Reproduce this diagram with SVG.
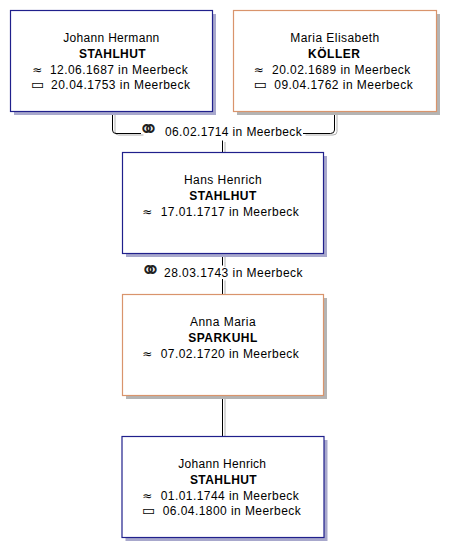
<svg xmlns="http://www.w3.org/2000/svg" width="456" height="558" viewBox="0 0 456 558">
<style>
.bg{fill:#ffffff}
.box{fill:#ffffff;stroke-width:1.2}
.m{stroke:#20208c}
.f{stroke:#d9946c}
.shm{fill:#a8a8cc}
.shf{fill:#b4b4b4}
text{font-family:"Liberation Sans",Arial,sans-serif;font-size:12px;fill:#000}
.c{text-anchor:middle}
.b{font-weight:bold}
.sym{font-family:"DejaVu Sans",sans-serif;text-anchor:middle}
.ring{font-family:"DejaVu Sans",sans-serif;text-anchor:middle;font-size:25px;font-weight:200;fill:#222}
.dth{font-family:"DejaVu Sans",sans-serif;text-anchor:middle;font-size:14px}
.con{fill:none;stroke:#000;stroke-width:1}
.cons{fill:none;stroke:#b0b0b0;stroke-width:1}
</style>
<rect class="bg" x="0" y="0" width="456" height="558"/>
<g id="connectors">
  <g transform="translate(2.5,1.5)">
    <path class="cons" d="M112.5,112 V130 Q112.5,133.5 116,133.5 H141"/>
    <path class="cons" d="M303,133.5 H330.5 Q334.5,133.5 334.5,130 V112"/>
    <path class="cons" d="M222.5,140.5 V152"/>
    <path class="cons" d="M222.5,254 V265.5 M222.5,279 V294"/>
    <path class="cons" d="M222.5,397 V436"/>
  </g>
  <path class="con" d="M112.5,112 V130 Q112.5,133.5 116,133.5 H141"/>
  <path class="con" d="M303,133.5 H330.5 Q334.5,133.5 334.5,130 V112"/>
  <path class="con" d="M222.5,140.5 V152"/>
  <path class="con" d="M222.5,254 V265.5 M222.5,279 V294"/>
  <path class="con" d="M222.5,397 V436"/>
  <text class="ring" x="148.8" y="138">⚭</text>
  <text x="165" y="136" textLength="136.7">06.02.1714 in Meerbeck</text>
  <text class="ring" x="150" y="279">⚭</text>
  <text x="164" y="277" textLength="138.5">28.03.1743 in Meerbeck</text>
</g>
<g id="p1">
  <rect class="shm" x="14" y="14" width="202" height="101"/>
  <rect class="box m" x="10.5" y="10.5" width="202" height="101"/>
  <text class="c" x="111.3" y="42" textLength="96">Johann Hermann</text>
  <text class="c b" x="112.3" y="57.5" textLength="66.5">STAHLHUT</text>
  <text class="sym" x="37.3" y="73.5" font-size="10">≈</text>
  <text x="50" y="73.5" textLength="137.7">12.06.1687 in Meerbeck</text>
  <text class="dth" x="37.5" y="89">▭</text>
  <text x="51" y="88.5" textLength="139">20.04.1753 in Meerbeck</text>
</g>
<g id="p2">
  <rect class="shf" x="237" y="14" width="203" height="101"/>
  <rect class="box f" x="233.5" y="10.5" width="203" height="101"/>
  <text class="c" x="334.8" y="42" textLength="89">Maria Elisabeth</text>
  <text class="c b" x="334" y="57.5" textLength="52">KÖLLER</text>
  <text class="sym" x="258.7" y="73.5" font-size="10">≈</text>
  <text x="272" y="73.5" textLength="138.3">20.02.1689 in Meerbeck</text>
  <text class="dth" x="260.3" y="89">▭</text>
  <text x="274.3" y="88.5" textLength="138.4">09.04.1762 in Meerbeck</text>
</g>
<g id="p3">
  <rect class="shm" x="126" y="156" width="201" height="101"/>
  <rect class="box m" x="122.5" y="152.5" width="201" height="101"/>
  <text class="c" x="222.8" y="184" textLength="77.7">Hans Henrich</text>
  <text class="c b" x="222.8" y="199.5" textLength="67">STAHLHUT</text>
  <text class="sym" x="147.2" y="215.5" font-size="10">≈</text>
  <text x="160.7" y="215.5" textLength="138">17.01.1717 in Meerbeck</text>
</g>
<g id="p4">
  <rect class="shf" x="126" y="298" width="201" height="101"/>
  <rect class="box f" x="122.5" y="294.5" width="201" height="101"/>
  <text class="c" x="222.8" y="326" textLength="65.7">Anna Maria</text>
  <text class="c b" x="222.8" y="341.5" textLength="69">SPARKUHL</text>
  <text class="sym" x="147.2" y="357.5" font-size="10">≈</text>
  <text x="160.7" y="357.5" textLength="138">07.02.1720 in Meerbeck</text>
</g>
<g id="p5">
  <rect class="shm" x="125.5" y="440" width="202" height="101"/>
  <rect class="box m" x="122" y="436.5" width="202" height="101"/>
  <text class="c" x="222.2" y="468" textLength="87.7">Johann Henrich</text>
  <text class="c b" x="223.3" y="483.5" textLength="66.7">STAHLHUT</text>
  <text class="sym" x="147.2" y="499.5" font-size="10">≈</text>
  <text x="160.7" y="499.5" textLength="138">01.01.1744 in Meerbeck</text>
  <text class="dth" x="148.7" y="515">▭</text>
  <text x="162.7" y="514.5" textLength="138">06.04.1800 in Meerbeck</text>
</g>
</svg>
